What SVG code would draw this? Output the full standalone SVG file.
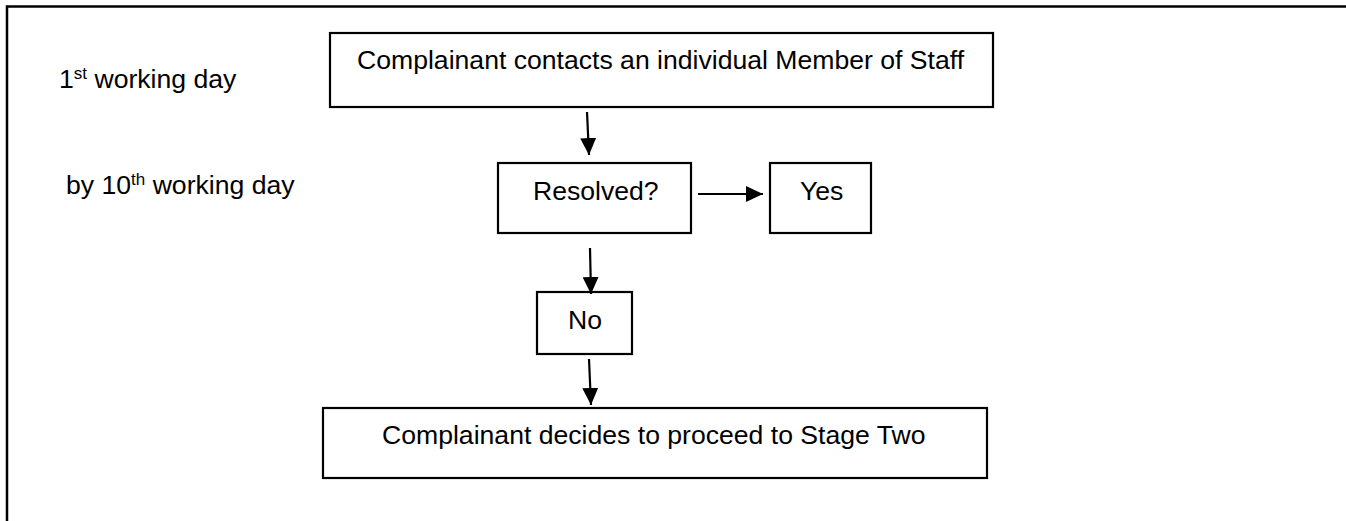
<svg xmlns="http://www.w3.org/2000/svg" width="1346" height="521" viewBox="0 0 1346 521">
<style>
  .box { fill: #ffffff; stroke: #000000; stroke-width: 2.2; }
  .t { font-family: "Liberation Sans", Arial, sans-serif; font-size: 26.6px; fill: #000000; }
  .sup { font-size: 17px; }
  .conn { stroke: #000000; stroke-width: 2.2; fill: none; marker-end: url(#ah); }
  .frame { stroke: #000000; stroke-width: 2.5; fill: none; }
</style>
<defs>
  <marker id="ah" markerUnits="userSpaceOnUse" markerWidth="17" markerHeight="16" refX="17" refY="8" orient="auto">
    <path d="M0,0 L17,8 L0,16 z" fill="#000000"/>
  </marker>
</defs>
<rect width="1346" height="521" fill="#ffffff"/>
<path class="frame" d="M7,521 L7,6.5 L1346,6.5"/>

<g id="label-day1">
  <text class="t" x="59" y="88">1<tspan class="sup" dy="-9">st</tspan><tspan dy="9"> working day</tspan></text>
</g>
<g id="label-day10">
  <text class="t" x="66" y="194">by 10<tspan class="sup" dy="-9">th</tspan><tspan dy="9"> working day</tspan></text>
</g>

<g id="node-contact">
  <rect class="box" x="330" y="33" width="663" height="74"/>
  <text class="t" x="357" y="69">Complainant contacts an individual Member of Staff</text>
</g>
<g id="node-resolved">
  <rect class="box" x="498" y="163" width="193" height="70"/>
  <text class="t" x="533" y="200">Resolved?</text>
</g>
<g id="node-yes">
  <rect class="box" x="770" y="163" width="101" height="70"/>
  <text class="t" x="800" y="200">Yes</text>
</g>
<g id="node-no">
  <rect class="box" x="537" y="292" width="95" height="62"/>
  <text class="t" x="568" y="329">No</text>
</g>
<g id="node-stage2">
  <rect class="box" x="323" y="408" width="664" height="70"/>
  <text class="t" x="382" y="444">Complainant decides to proceed to Stage Two</text>
</g>

<g id="connectors">
  <line class="conn" x1="587" y1="112" x2="589" y2="155"/>
  <line class="conn" x1="698" y1="194" x2="763" y2="194"/>
  <line class="conn" x1="590" y1="248" x2="591" y2="294"/>
  <line class="conn" x1="589" y1="359" x2="591" y2="405"/>
</g>
</svg>
